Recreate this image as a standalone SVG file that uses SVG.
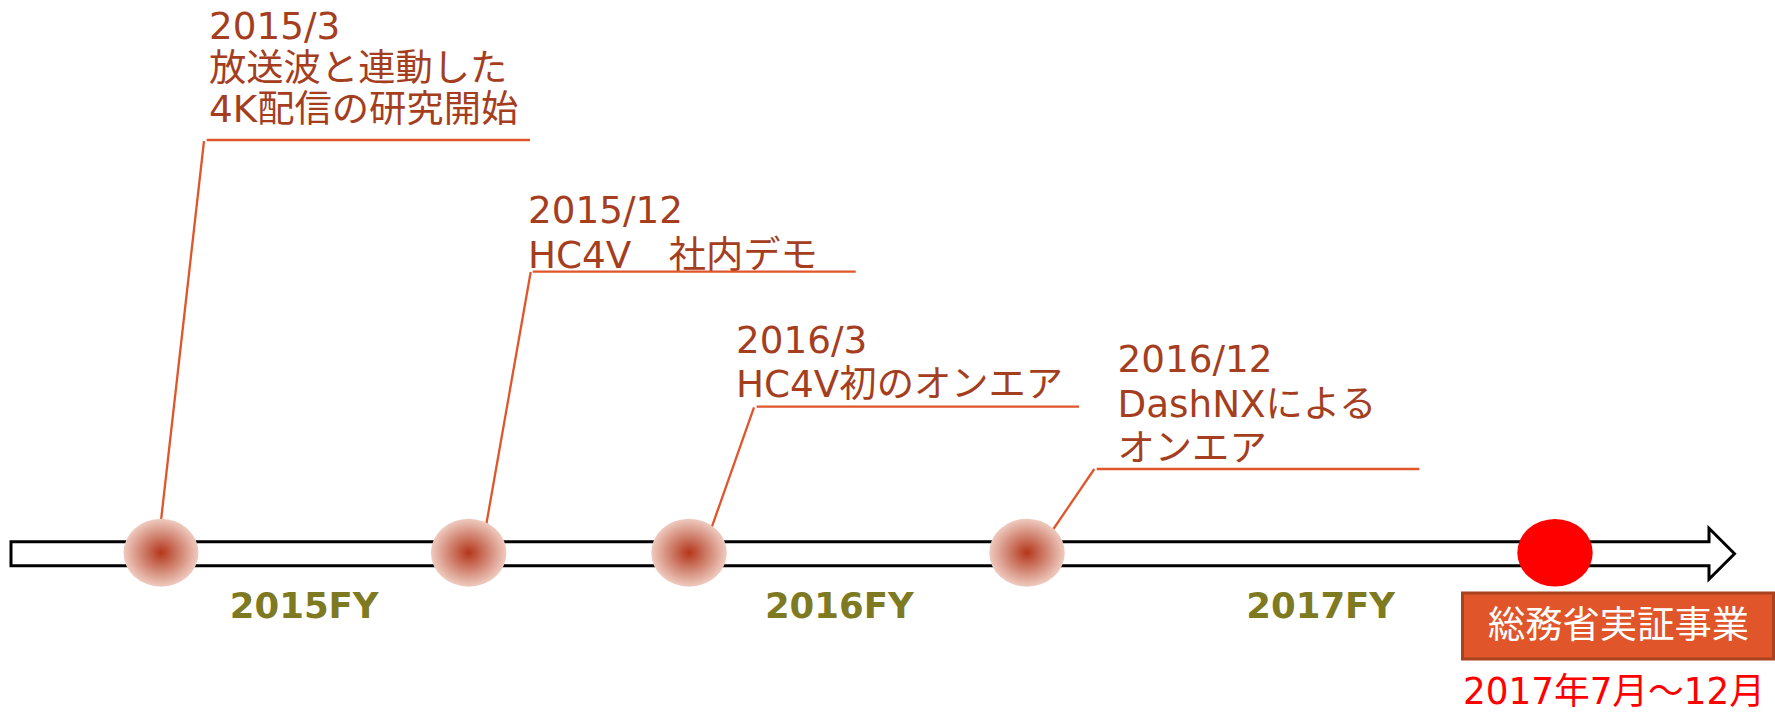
<svg xmlns="http://www.w3.org/2000/svg" width="1775" height="712" viewBox="0 0 1775 712">
<style>
.lbl{font-family:"DejaVu Sans","Noto Sans CJK JP",sans-serif;font-size:37.3px;fill:#A43E1E}
.fy{font-family:"DejaVu Sans","Noto Sans CJK JP",sans-serif;font-size:35.5px;font-weight:bold;fill:#7D7A22;text-anchor:middle}
.ul{stroke:#E0552A;stroke-width:2.3;fill:none}
.ld{stroke:#E0552A;stroke-width:2.3;fill:none}
.ev{fill:url(#rg)}
</style>
<defs>
<radialGradient id="rg" cx="0.5" cy="0.5" r="0.5">
<stop offset="0" stop-color="#B5361A"/>
<stop offset="0.45" stop-color="#CD7A66"/>
<stop offset="1" stop-color="#EFCBC0"/>
</radialGradient>
</defs>
<rect width="1775" height="712" fill="#FFFFFF"/>
<g id="timeline-arrow">
<polygon points="11,541.7 1709,541.7 1709,528.3 1734.5,553.7 1709,579.2 1709,565.7 11,565.7" fill="#FFFFFF" stroke="#000000" stroke-width="3" stroke-linejoin="miter"/>
</g>
<g id="connectors">
<line class="ld" x1="204" y1="141" x2="160.5" y2="525"/>
<line class="ld" x1="530.7" y1="272" x2="486" y2="526"/>
<line class="ld" x1="754" y1="407.3" x2="709" y2="535"/>
<line class="ld" x1="1094.3" y1="469" x2="1050" y2="534"/>
</g>
<g id="event-2015-3">
<ellipse class="ev" cx="161" cy="552.7" rx="37.5" ry="34"/>
</g>
<g id="event-2015-12">
<ellipse class="ev" cx="468.7" cy="552.7" rx="37.8" ry="34"/>
</g>
<g id="event-2016-3">
<ellipse class="ev" cx="689" cy="552.7" rx="37.8" ry="34"/>
</g>
<g id="event-2016-12">
<ellipse class="ev" cx="1027" cy="552.7" rx="37.8" ry="34"/>
</g>
<g id="event-2017">
<ellipse cx="1555" cy="552.7" rx="37.7" ry="33.8" fill="#FF0000"/>
</g>
<g id="label-2015-3">
<text class="lbl" x="209" y="39.3">2015/3</text>
<text class="lbl" x="209" y="80.8">放送波と連動した</text>
<text class="lbl" x="209" y="122.3">4K配信の研究開始</text>
<line class="ul" x1="206.7" y1="140" x2="530" y2="140"/>
</g>
<g id="label-2015-12">
<text class="lbl" x="528" y="223.3">2015/12</text>
<text class="lbl" x="528" y="268.3">HC4V　社内デモ</text>
<line class="ul" x1="532.7" y1="271.7" x2="855.7" y2="271.7"/>
</g>
<g id="label-2016-3">
<text class="lbl" x="736" y="353.3">2016/3</text>
<text class="lbl" x="736" y="397.3">HC4V初のオンエア</text>
<line class="ul" x1="756.7" y1="406.7" x2="1079" y2="406.7"/>
</g>
<g id="label-2016-12">
<text class="lbl" x="1117.5" y="372.3">2016/12</text>
<text class="lbl" x="1117.5" y="416.7">DashNXによる</text>
<text class="lbl" x="1117.5" y="461">オンエア</text>
<line class="ul" x1="1096.7" y1="469" x2="1419.3" y2="469"/>
</g>
<g id="fy-labels">
<text class="fy" x="304.2" y="617.7">2015FY</text>
<text class="fy" x="839.3" y="617.7">2016FY</text>
<text class="fy" x="1320.7" y="617.7">2017FY</text>
</g>
<g id="project-box">
<rect x="1462.5" y="593" width="311" height="66" fill="#E0552A" stroke="#A8421F" stroke-width="3"/>
<text x="1618.5" y="638" text-anchor="middle" font-family="DejaVu Sans, Noto Sans CJK JP, sans-serif" font-size="37.3" fill="#FFFFFF">総務省実証事業</text>
</g>
<g id="project-period">
<text x="1463" y="704" font-family="DejaVu Sans, Noto Sans CJK JP, sans-serif" font-size="36.5" fill="#FF0000" textLength="302" lengthAdjust="spacingAndGlyphs">2017年7月～12月</text>
</g>
</svg>
